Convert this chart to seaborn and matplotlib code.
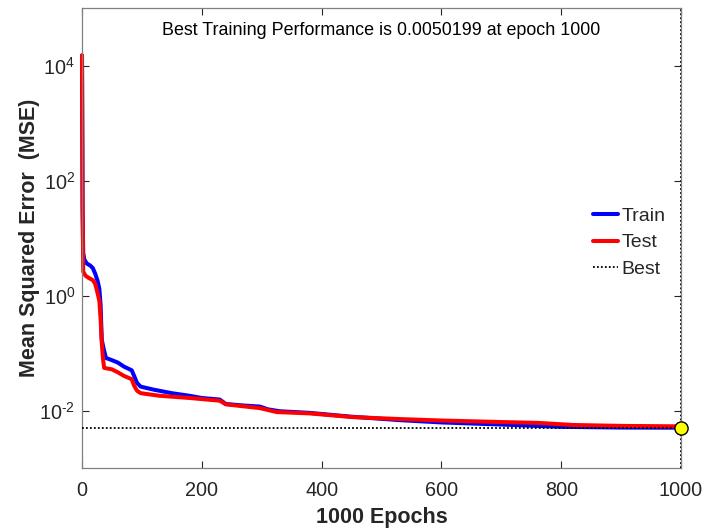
import numpy as np
import pandas as pd
import matplotlib
matplotlib.use("Agg")
import matplotlib.pyplot as plt
import seaborn as sns
from matplotlib.lines import Line2D
from matplotlib.ticker import NullLocator, FixedLocator, FuncFormatter

# ---- data ----
train_epochs = [0, 1, 2, 4, 8, 14, 18, 22, 26, 29, 31, 33, 36, 40, 50, 60, 70, 83, 87, 92, 98,
                120, 150, 180, 200, 230, 240, 270, 297, 310, 330, 380, 450, 530, 600, 700, 800, 900, 1000]
train_mse = [15000, 30, 5.5, 4.2, 3.6, 3.3, 3.0, 2.4, 1.8, 1.3, 0.7, 0.17, 0.12, 0.082, 0.075, 0.068,
             0.058, 0.050, 0.040, 0.030, 0.026, 0.023, 0.020, 0.018, 0.0165, 0.0155, 0.013, 0.0122,
             0.0117, 0.0105, 0.0097, 0.0091, 0.0078, 0.0068, 0.0062, 0.0057, 0.0052, 0.00505, 0.0050199]

test_epochs = [0, 1, 2, 6, 12, 18, 22, 26, 29, 31, 33, 35, 37, 50, 60, 70, 83, 87, 92, 98,
               130, 180, 230, 240, 297, 325, 380, 450, 530, 600, 700, 760, 820, 900, 1000]
test_mse = [15000, 40, 2.6, 2.2, 2.0, 1.85, 1.6, 1.1, 0.8, 0.4, 0.15, 0.08, 0.055, 0.052, 0.046,
            0.040, 0.035, 0.027, 0.022, 0.020, 0.018, 0.0165, 0.0148, 0.0128, 0.0110, 0.0094,
            0.0089, 0.0077, 0.0071, 0.0067, 0.0063, 0.0061, 0.0056, 0.0054, 0.0053]

best_epoch = 1000
best_perf = 0.0050199
title_text = "Best Training Performance is 0.0050199 at epoch 1000"
x_ticks = [0, 200, 400, 600, 800, 1000]
y_ticks = [1e-2, 1e0, 1e2, 1e4]

# ---- build table ----
df = pd.concat([
    pd.DataFrame({"epoch": train_epochs, "mse": train_mse, "set": "Train"}),
    pd.DataFrame({"epoch": test_epochs, "mse": test_mse, "set": "Test"}),
], ignore_index=True)

sns.set_theme(style="ticks")
plt.rcParams['font.family'] = ['Liberation Sans', 'DejaVu Sans']
plt.rcParams['mathtext.fontset'] = 'custom'
plt.rcParams['mathtext.rm'] = 'Liberation Sans'
plt.rcParams['mathtext.it'] = 'Liberation Sans:italic'
plt.rcParams['mathtext.bf'] = 'Liberation Sans:bold'

fig = plt.figure(figsize=(7.04, 5.32), dpi=100)
ax = fig.add_axes([82/704, 64/532, 599/704, 460/532])

LW = 2.9
sns.lineplot(data=df, x="epoch", y="mse", hue="set", palette={"Train": "#0000ff", "Test": "#ff0000"},
             linewidth=LW, ax=ax, legend=False, sort=False, estimator=None)
for ln in ax.lines:
    ln.set_clip_on(False)
    ln.set_solid_joinstyle("round")

ax.set_yscale("log")
ax.set_xlim(0, 1000)
ax.set_ylim(1e-3, 1e5)

DOT = (0, (1, 1.2))
ax.axhline(best_perf, color="black", linestyle=DOT, linewidth=1.3, zorder=3)
ax.axvline(best_epoch, color="black", linestyle=DOT, linewidth=1.3, zorder=3)
ax.plot([best_epoch], [best_perf], marker="o", markersize=9.5, markerfacecolor="#ffff00",
        markeredgecolor="black", markeredgewidth=1.0, linestyle="none", zorder=5, clip_on=False)

ax.xaxis.set_major_locator(FixedLocator(x_ticks))
ax.yaxis.set_major_locator(FixedLocator(y_ticks))
ax.yaxis.set_minor_locator(NullLocator())
ax.xaxis.set_minor_locator(NullLocator())


def yfmt(v, pos):
    e = int(round(np.log10(v)))
    if e < 0:
        return r"$\mathregular{10^{\text{-}%d}}$" % (-e)
    return r"$\mathregular{10^{%d}}$" % e


ax.yaxis.set_major_formatter(FuncFormatter(yfmt))

ax.tick_params(direction="in", top=True, right=True, length=5, width=0.8,
               labelsize=14.3, colors="#262626", labelcolor="#262626")
ax.tick_params(axis="x", pad=9)
ax.tick_params(axis="y", pad=5)
for s in ax.spines.values():
    s.set_visible(True)
    s.set_color("#808080")
    s.set_linewidth(0.9)

ax.set_xlabel("1000 Epochs", fontsize=15.5, fontweight="bold", color="#262626", labelpad=5.5)
ax.set_ylabel("Mean Squared Error  (MSE)", fontsize=15.5, fontweight="bold", color="#262626", labelpad=-1)

ax.text(0.5, 0.952, title_text, transform=ax.transAxes, ha="center", va="center",
        fontsize=12.9, color="black")

handles = [
    Line2D([], [], color="#0000ff", linewidth=LW),
    Line2D([], [], color="#ff0000", linewidth=LW),
    Line2D([], [], color="black", linestyle=DOT, linewidth=1.3),
]
ax.legend(handles, ["Train", "Test", "Best"], loc="upper left", bbox_to_anchor=(0.846, 0.575),
          frameon=False, fontsize=14, handlelength=1.3, handletextpad=0.2, labelspacing=0.45,
          borderpad=0.2, borderaxespad=0.0)

fig.savefig("out.png", dpi=100)
